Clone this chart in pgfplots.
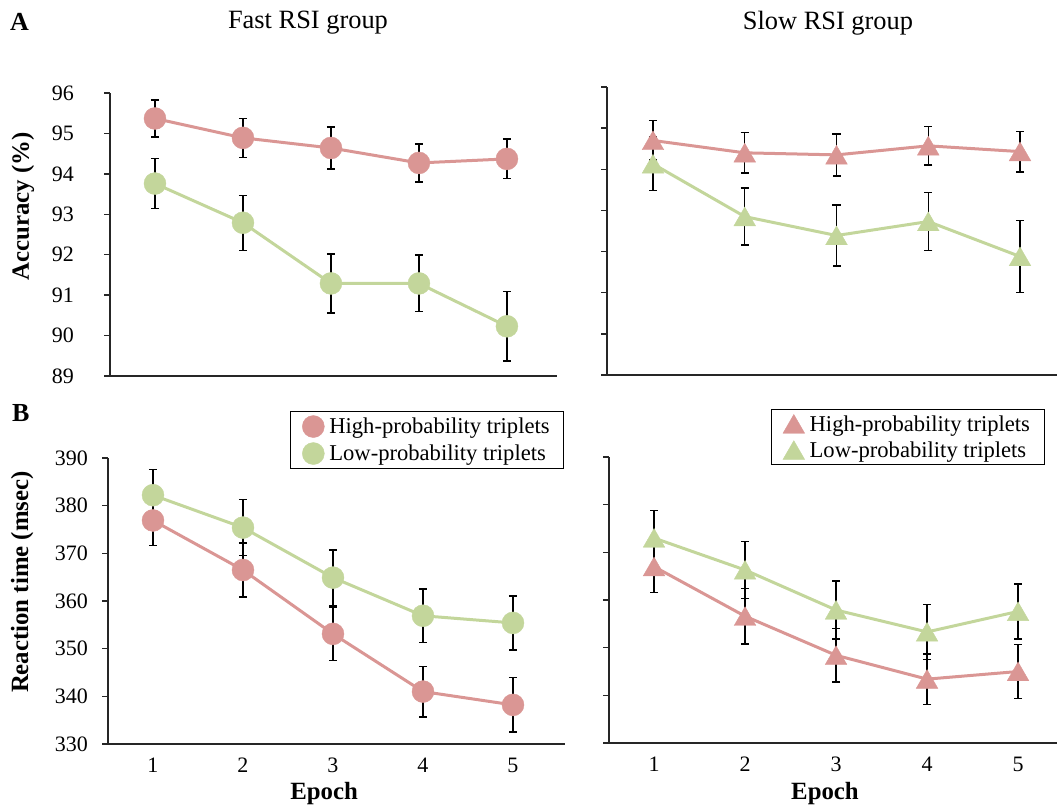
\documentclass[border=0pt]{standalone}
\usepackage{fontspec}
\setmainfont{Liberation Serif}
\usepackage{pgfplots}
\pgfplotsset{compat=1.18}

\definecolor{hiRed}{RGB}{218,150,148}
\definecolor{loGreen}{RGB}{195,214,155}

\pgfplotsset{
  panel/.style={
    scale only axis,
    axis x line=bottom, axis y line=left,
    axis line style={-, line width=1.3pt, black!85},
    xtick={1,...,5},
    xtick style={draw=none},
    ytick style={line width=1.3pt, black!85},
    tick align=outside,
    major tick length=6pt,
    /pgf/number format/assume math mode=true,
    tick label style={font=\fontsize{22}{24}\selectfont},
    yticklabel style={anchor=east, inner sep=0pt},
    xticklabel style={anchor=base, inner sep=0pt, yshift=-22pt},
    label style={font=\bfseries\fontsize{24.8}{28}\selectfont},
    legend style={draw=black, line width=0.9pt, font=\fontsize{22.6}{26}\selectfont,
      anchor=north west, inner xsep=12pt, inner ysep=4pt, row sep=5pt, column sep=3pt},
    legend cell align=left,
    legend image code/.code={\draw[##1, only marks] plot coordinates {(0pt,0pt)};},
    clip=false,
  },
  err/.style={
    error bars/y dir=both, error bars/y explicit,
    error bars/error bar style={line width=1.5pt, black},
    error bars/error mark options={rotate=90, mark size=4pt, line width=1.5pt, black},
  },
  hiC/.style={err, color=hiRed, line width=3pt, mark=*, mark size=11pt,
    mark options={fill=hiRed, draw=hiRed, line width=0.4pt}},
  loC/.style={err, color=loGreen, line width=3pt, mark=*, mark size=11pt,
    mark options={fill=loGreen, draw=loGreen, line width=0.4pt}},
  hiT/.style={err, color=hiRed, line width=3pt, mark=triangle*, mark size=12.5pt,
    mark options={fill=hiRed, draw=hiRed, line width=0.4pt, yshift=-3pt}},
  loT/.style={err, color=loGreen, line width=3pt, mark=triangle*, mark size=12.5pt,
    mark options={fill=loGreen, draw=loGreen, line width=0.4pt, yshift=-3pt}},
}

\begin{document}
\begin{tikzpicture}[x=1pt,y=1pt]
\useasboundingbox (0,0) rectangle (1057,804);

% A: accuracy, fast RSI
\begin{axis}[panel,
  at={(110pt,428pt)}, anchor=south west,
  width=447pt, height=283pt,
  xmin=0.489, xmax=5.569, ymin=89, ymax=96,
  ytick={89,...,96}, xticklabels={},
  yticklabel style={xshift=-30pt},
  ylabel={Accuracy (\%)},
  ylabel style={at={(axis description cs:-0.195,0.60)}, anchor=center},
]
\addplot[hiC] coordinates {
  (1,95.37) +- (0,0.46) (2,94.89) +- (0,0.48) (3,94.64) +- (0,0.52)
  (4,94.27) +- (0,0.47) (5,94.37) +- (0,0.49)};
\addplot[loC] coordinates {
  (1,93.76) +- (0,0.62) (2,92.79) +- (0,0.68) (3,91.29) +- (0,0.73)
  (4,91.29) +- (0,0.70) (5,90.23) +- (0,0.86)};
\end{axis}

% A: accuracy, slow RSI
\begin{axis}[panel,
  at={(607pt,429pt)}, anchor=south west,
  width=452pt, height=288pt,
  xmin=0.499, xmax=5.425, ymin=89, ymax=96,
  ytick={89,...,96}, yticklabels={}, xticklabels={},
]
\addplot[hiT] coordinates {
  (1,94.70) +- (0,0.48) (2,94.40) +- (0,0.49) (3,94.35) +- (0,0.51)
  (4,94.57) +- (0,0.47) (5,94.43) +- (0,0.49)};
\addplot[loT] coordinates {
  (1,94.13) +- (0,0.65) (2,92.85) +- (0,0.69) (3,92.39) +- (0,0.74)
  (4,92.73) +- (0,0.71) (5,91.88) +- (0,0.88)};
\end{axis}

% B: reaction time, fast RSI
\begin{axis}[panel,
  at={(108pt,60pt)}, anchor=south west,
  width=457pt, height=286pt,
  xmin=0.5, xmax=5.578, ymin=330, ymax=390,
  ytick={330,340,...,390},
  yticklabel style={xshift=-14pt},
  ylabel={Reaction time (msec)},
  ylabel style={at={(axis description cs:-0.188,0.566)}, anchor=center},
  xlabel={Epoch},
  xlabel style={at={(axis description cs:0.473,0)}, anchor=base, yshift=-55pt},
  legend style={at={(axis description cs:0.398,1.164)}},
]
\addplot[hiC] coordinates {
  (1,376.9) +- (0,5.3) (2,366.5) +- (0,5.7) (3,353.1) +- (0,5.6)
  (4,341.0) +- (0,5.3) (5,338.2) +- (0,5.7)};
\addplot[loC] coordinates {
  (1,382.2) +- (0,5.4) (2,375.4) +- (0,5.9) (3,364.9) +- (0,5.8)
  (4,356.9) +- (0,5.6) (5,355.4) +- (0,5.7)};
\legend{High-probability triplets, Low-probability triplets}
\end{axis}

% B: reaction time, slow RSI
\begin{axis}[panel,
  at={(609pt,61pt)}, anchor=south west,
  width=450pt, height=286pt,
  xmin=0.505, xmax=5.45, ymin=330, ymax=390,
  ytick={330,340,...,390}, yticklabels={},
  xlabel={Epoch},
  xlabel style={at={(axis description cs:0.48,0)}, anchor=base, yshift=-56pt},
  legend style={at={(axis description cs:0.359,1.168)}},
]
\addplot[hiT] coordinates {
  (1,367.0) +- (0,5.4) (2,356.6) +- (0,5.8) (3,348.4) +- (0,5.6)
  (4,343.4) +- (0,5.3) (5,345.0) +- (0,5.7)};
\addplot[loT] coordinates {
  (1,373.0) +- (0,5.8) (2,366.3) +- (0,6.0) (3,357.9) +- (0,6.1)
  (4,353.3) +- (0,5.8) (5,357.6) +- (0,5.8)};
\legend{High-probability triplets, Low-probability triplets}
\end{axis}

\node[anchor=base, font=\fontsize{26.4}{30}\selectfont] at (308,775) {Fast RSI group};
\node[anchor=base, font=\fontsize{26.4}{30}\selectfont] at (828,774) {Slow RSI group};
\node[anchor=base west, inner sep=0pt, font=\bfseries\fontsize{26}{30}\selectfont] at (10,773) {A};
\node[anchor=base west, inner sep=0pt, font=\bfseries\fontsize{26}{30}\selectfont] at (12,382) {B};
\end{tikzpicture}
\end{document}
